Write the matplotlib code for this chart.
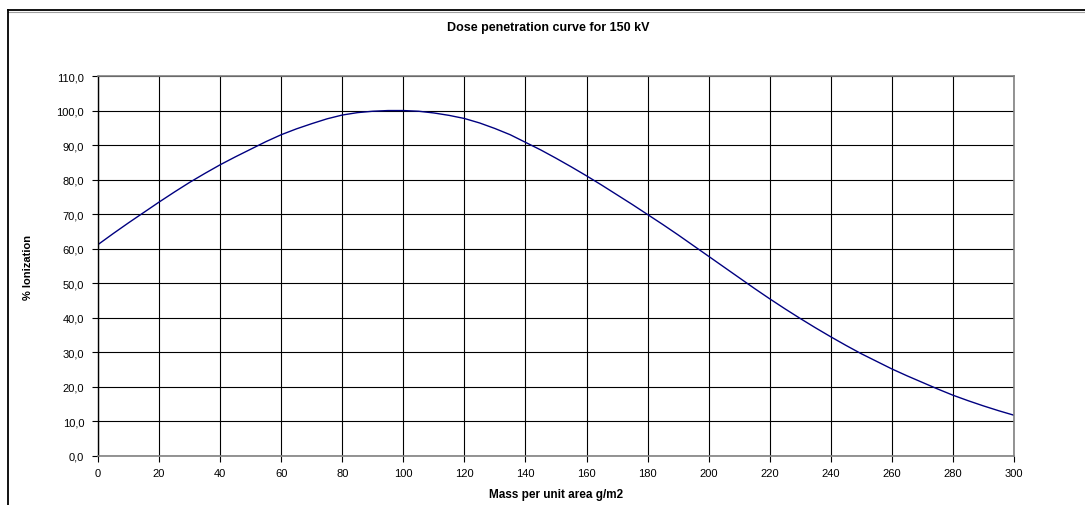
import numpy as np
import matplotlib.pyplot as plt
from matplotlib.lines import Line2D
from matplotlib.ticker import FuncFormatter, MultipleLocator

# values (every 5 g/m2)
mass = list(range(0, 305, 5))
ionization = [61.2, 64.4, 67.5, 70.5, 73.5, 76.4, 79.2, 81.8, 84.3, 86.6,
              88.8, 91.0, 93.0, 94.7, 96.2, 97.6, 98.7, 99.4, 99.8, 100.0,
              100.0, 99.8, 99.3, 98.6, 97.7, 96.4, 94.8, 93.0, 90.8, 88.6,
              86.2, 83.7, 81.1, 78.4, 75.6, 72.8, 69.9, 67.0, 64.0, 60.9,
              57.8, 54.7, 51.6, 48.5, 45.5, 42.6, 39.8, 37.1, 34.5, 32.0,
              29.6, 27.4, 25.2, 23.2, 21.3, 19.4, 17.6, 16.0, 14.5, 13.1,
              11.8]

title = "Dose penetration curve for 150 kV"
xlabel = "Mass per unit area g/m2"
ylabel = "% Ionization"

plt.rcParams['font.family'] = ['Liberation Sans', 'DejaVu Sans']

fig = plt.figure(figsize=(10.85, 5.06), dpi=100)
ax = fig.add_axes([98 / 1085, 49 / 506, 916 / 1085, 380 / 506])

ax.plot(mass, ionization, color='#000080', linewidth=1.0)

ax.set_xlim(0, 300)
ax.set_ylim(0, 110)
ax.xaxis.set_major_locator(MultipleLocator(20))
ax.yaxis.set_major_locator(MultipleLocator(10))
ax.yaxis.set_major_formatter(FuncFormatter(lambda v, p: f"{v:.1f}".replace('.', ',')))
ax.grid(True, color='black', linewidth=0.8)
ax.set_axisbelow(True)
ax.tick_params(axis='both', direction='out', length=4, width=0.8,
               labelsize=8, colors='black')
ax.tick_params(axis='y', pad=6)
ax.tick_params(axis='x', pad=5)

for side in ['top', 'right', 'bottom']:
    ax.spines[side].set_color('#808080')
    ax.spines[side].set_linewidth(1.2)
ax.spines['left'].set_color('black')
ax.spines['left'].set_linewidth(1.0)

ax.set_xlabel(xlabel, fontsize=8.5, fontweight='bold')
ax.xaxis.set_label_coords(0.5, -0.085)
ax.set_ylabel(ylabel, fontsize=8, fontweight='bold')
ax.yaxis.set_label_coords(-0.071, 0.5)

fig.text(548 / 1085, 1 - 28 / 506, title, fontsize=9, fontweight='bold',
         ha='center', va='center')

# outer chart frame (cropped at the right and bottom)
fig.add_artist(Line2D([8 / 1085, 1], [1 - 10.5 / 506, 1 - 10.5 / 506],
                      transform=fig.transFigure, color='black', linewidth=1.3))
fig.add_artist(Line2D([8 / 1085, 1], [1 - 12.5 / 506, 1 - 12.5 / 506],
                      transform=fig.transFigure, color='#a0a0a0', linewidth=0.8))
fig.add_artist(Line2D([8 / 1085, 8 / 1085], [0, 1 - 10.5 / 506],
                      transform=fig.transFigure, color='black', linewidth=1.3))

fig.savefig('out.png', dpi=100)
